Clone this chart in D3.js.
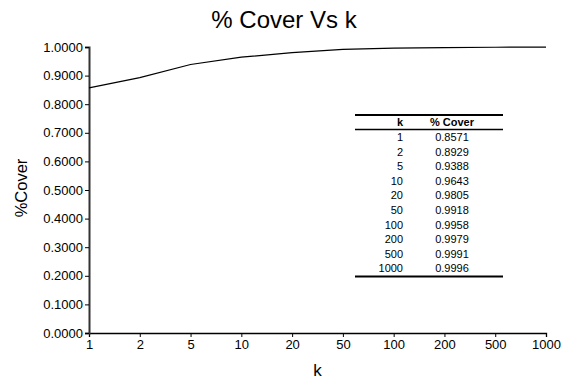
<!DOCTYPE html>
<html>
<head>
<meta charset="utf-8">
<script src="https://cdn.jsdelivr.net/npm/d3@7"></script>
<style>
  body { margin: 0; background: #fff; }
  svg { font-family: "Liberation Sans", Arial, Helvetica, sans-serif; }
</style>
</head>
<body>
<div id="chart-wrapper"></div>
<script>
let width = 561
let height = 383
let kLabels = ["1", "2", "5", "10", "20", "50", "100", "200", "500", "1000"]
let cover = [0.8571, 0.8929, 0.9388, 0.9643, 0.9805, 0.9918, 0.9958, 0.9979, 0.9991, 0.9996]
let yTicks = [0, 0.1, 0.2, 0.3, 0.4, 0.5, 0.6, 0.7, 0.8, 0.9, 1.0]

let margin = {top: 47, right: 15, bottom: 50, left: 89}

let svg = d3.select("#chart-wrapper")
  .append("svg")
  .attr("width", width)
  .attr("height", height)

let graphWidth = width - margin.left - margin.right
let graphHeight = height - margin.top - margin.bottom

let graph = svg.append("g")
  .attr("transform", `translate(${margin.left},${margin.top})`)

// X Scale (evenly spaced categories)
let x = d3.scalePoint()
  .domain(kLabels)
  .range([0, graphWidth])

// Y Scale
let y = d3.scaleLinear()
  .domain([0, 1])
  .range([graphHeight, 0])

// X Axis
let xAxis = graph.append("g")
  .attr("class", "xAxis")
  .attr("transform", `translate(0,${graphHeight})`)
  .call(d3.axisBottom(x).tickSizeOuter(0).tickSize(4).tickPadding(3))
xAxis.select("path").attr("stroke", "#000").attr("stroke-width", 1.3)
xAxis.selectAll("line").attr("stroke", "#000")
xAxis.selectAll("text").attr("font-size", 13).attr("fill", "#000")
  .attr("font-family", "Liberation Sans, Arial, sans-serif")

// Y Axis
let yAxis = graph.append("g")
  .attr("class", "yAxis")
  .call(d3.axisLeft(y).tickValues(yTicks).tickFormat(d3.format(".4f")).tickSizeOuter(0).tickSize(4).tickPadding(2))
yAxis.select("path").attr("stroke", "#333").attr("stroke-width", 2)
yAxis.selectAll("line").attr("stroke", "#000")
yAxis.selectAll("text").attr("font-size", 13).attr("fill", "#000")
  .attr("font-family", "Liberation Sans, Arial, sans-serif")

// Line
let line = d3.line()
  .x((d, i) => x(kLabels[i]))
  .y(d => y(d))

graph.append("path")
  .attr("fill", "none")
  .attr("stroke", "#000")
  .attr("stroke-width", 1.2)
  .attr("d", line(cover))

// Title
svg.append("text")
  .attr("x", 284)
  .attr("y", 28)
  .attr("text-anchor", "middle")
  .attr("font-size", 24)
  .text("% Cover Vs k")

// Axis titles
svg.append("text")
  .attr("x", margin.left + graphWidth / 2)
  .attr("y", 376)
  .attr("text-anchor", "middle")
  .attr("font-size", 17)
  .text("k")

svg.append("text")
  .attr("transform", `translate(27,${margin.top + graphHeight / 2 - 2}) rotate(-90)`)
  .attr("text-anchor", "middle")
  .attr("font-size", 16.5)
  .text("%Cover")

// Data table
let tbl = svg.append("g").attr("class", "table")
let tLeft = 355, tRight = 503, tTop = 115
let rowH = 14.6
let firstRow = 141
let kX = 403, cX = 452

tbl.append("line").attr("x1", tLeft).attr("x2", tRight).attr("y1", tTop).attr("y2", tTop)
  .attr("stroke", "#000").attr("stroke-width", 2)
tbl.append("text").attr("x", kX).attr("y", tTop + 11).attr("text-anchor", "end")
  .attr("font-size", 11).attr("font-weight", "bold").text("k")
tbl.append("text").attr("x", cX).attr("y", tTop + 11).attr("text-anchor", "middle")
  .attr("font-size", 11).attr("font-weight", "bold").text("% Cover")
tbl.append("line").attr("x1", tLeft).attr("x2", tRight).attr("y1", tTop + 14.5).attr("y2", tTop + 14.5)
  .attr("stroke", "#000").attr("stroke-width", 1.5)

tbl.selectAll(".kcell")
  .data(kLabels)
  .enter()
  .append("text")
  .attr("class", "kcell")
  .attr("x", kX)
  .attr("y", (d, i) => firstRow + i * rowH)
  .attr("text-anchor", "end")
  .attr("font-size", 11)
  .text(d => d)

tbl.selectAll(".ccell")
  .data(cover)
  .enter()
  .append("text")
  .attr("class", "ccell")
  .attr("x", cX)
  .attr("y", (d, i) => firstRow + i * rowH)
  .attr("text-anchor", "middle")
  .attr("font-size", 11)
  .text(d => d3.format(".4f")(d))

tbl.append("line").attr("x1", tLeft).attr("x2", tRight).attr("y1", 276.5).attr("y2", 276.5)
  .attr("stroke", "#000").attr("stroke-width", 2)
</script>
</body>
</html>
